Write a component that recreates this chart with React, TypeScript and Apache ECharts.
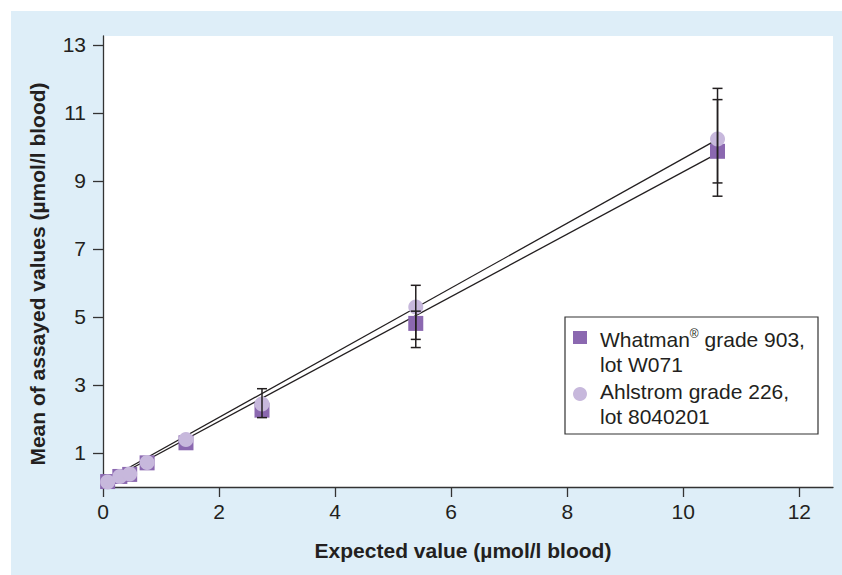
import React, { useEffect, useRef } from "react";
import * as echarts from "echarts";

// Expected values (µmol/l blood)
const expected = [0.08, 0.29, 0.46, 0.76, 1.43, 2.74, 5.39, 10.59];
// Mean of assayed values
const whatmanMean = [0.16, 0.31, 0.37, 0.71, 1.3, 2.26, 4.81, 9.87];
const ahlstromMean = [0.15, 0.31, 0.38, 0.72, 1.4, 2.44, 5.29, 10.23];
// Error bars: [expected, low, high]
const whatmanErrorBars = [
  [5.39, 4.34, 5.17],
  [10.59, 8.94, 11.39],
];
const ahlstromErrorBars = [
  [2.74, 2.04, 2.89],
  [5.39, 4.1, 5.93],
  [10.59, 8.55, 11.72],
];
// Regression lines: [x, y] endpoints
const whatmanFit = [
  [0.08, 0.17],
  [10.59, 9.81],
];
const ahlstromFit = [
  [0.08, 0.22],
  [10.59, 10.22],
];
const xTicks = [0, 2, 4, 6, 8, 10, 12];
const yTicks = [1, 3, 5, 7, 9, 11, 13];

const FONT = "'Liberation Sans', Arial, Helvetica, sans-serif";
const SQUARE = "#8b68b0";
const CIRCLE = "#c7b8dc";
const INK = "#231f20";

export default function App() {
  const ref = useRef<HTMLDivElement>(null);
  useEffect(() => {
    if (!ref.current) return;
    const chart = echarts.init(ref.current, null, { renderer: "svg" });

    const errItem = (params: any, api: any) => {
      const x = api.value(0);
      const lo = api.coord([x, api.value(1)]);
      const hi = api.coord([x, api.value(2)]);
      const w = 5;
      const st = { stroke: INK, lineWidth: 1.5 };
      return {
        type: "group",
        children: [
          { type: "line", shape: { x1: lo[0], y1: lo[1], x2: hi[0], y2: hi[1] }, style: st },
          { type: "line", shape: { x1: lo[0] - w, y1: lo[1], x2: lo[0] + w, y2: lo[1] }, style: st },
          { type: "line", shape: { x1: hi[0] - w, y1: hi[1], x2: hi[0] + w, y2: hi[1] }, style: st },
        ],
      };
    };

    const option: any = {
      animation: false,
      backgroundColor: "#ffffff",
      textStyle: { fontFamily: FONT },
      graphic: [
        {
          type: "rect",
          z: -10,
          silent: true,
          shape: { x: 11, y: 11, width: 831, height: 564 },
          style: { fill: "#deeef8" },
        },
        {
          type: "text",
          x: 37,
          y: 274,
          rotation: Math.PI / 2,
          style: {
            text: "Mean of assayed values (µmol/l blood)",
            font: `bold 21px ${FONT}`,
            fill: INK,
            align: "center",
            verticalAlign: "middle",
          },
        },
        {
          type: "group",
          z: 100,
          children: [
            {
              type: "rect",
              shape: { x: 565, y: 317, width: 253, height: 117 },
              style: { fill: "#ffffff", stroke: "#333", lineWidth: 1.2 },
            },
            {
              type: "rect",
              shape: { x: 573, y: 331, width: 14, height: 13 },
              style: { fill: SQUARE },
            },
            {
              type: "circle",
              shape: { cx: 580, cy: 394, r: 7 },
              style: { fill: CIRCLE },
            },
            {
              type: "text",
              x: 600,
              y: 339,
              style: {
                text: "{a|Whatman}{s|®}{a| grade 903,}",
                verticalAlign: "middle",
                fill: INK,
                rich: {
                  a: { fontFamily: FONT, fontSize: 21, fill: INK, lineHeight: 23 },
                  s: { fontFamily: FONT, fontSize: 12, fill: INK, lineHeight: 23, verticalAlign: "top" },
                },
              },
            },
            {
              type: "text",
              x: 600,
              y: 364,
              style: { text: "lot W071", font: `21px ${FONT}`, fill: INK, verticalAlign: "middle" },
            },
            {
              type: "text",
              x: 600,
              y: 391,
              style: { text: "Ahlstrom grade 226,", font: `21px ${FONT}`, fill: INK, verticalAlign: "middle" },
            },
            {
              type: "text",
              x: 600,
              y: 416,
              style: { text: "lot 8040201", font: `21px ${FONT}`, fill: INK, verticalAlign: "middle" },
            },
          ],
        },
      ],
      grid: {
        left: 103,
        right: 9,
        top: 36,
        bottom: 88,
        show: true,
        backgroundColor: "#ffffff",
        borderWidth: 0,
      },
      xAxis: {
        type: "value",
        min: 0,
        max: 12.58,
        splitLine: { show: false },
        axisLine: { show: true, onZero: false, lineStyle: { color: "#333", width: 1.3 } },
        axisTick: { show: true, length: 10, customValues: xTicks, lineStyle: { color: "#333", width: 1.3 } },
        axisLabel: { customValues: xTicks, fontSize: 21, color: INK, margin: 14, fontFamily: FONT },
        name: "Expected value (µmol/l blood)",
        nameLocation: "middle",
        nameGap: 53,
        nameTextStyle: { fontSize: 21, fontWeight: "bold", color: INK, fontFamily: FONT, padding: [0, 10, 0, 0] },
      },
      yAxis: {
        type: "value",
        min: 0,
        max: 13.26,
        splitLine: { show: false },
        axisLine: { show: true, onZero: false, lineStyle: { color: "#333", width: 1.3 } },
        axisTick: { show: true, length: 10, customValues: yTicks, lineStyle: { color: "#333", width: 1.3 } },
        axisLabel: { customValues: yTicks, fontSize: 21, color: INK, margin: 17, fontFamily: FONT },
      },
      series: [
        {
          type: "line",
          name: "Whatman fit",
          data: whatmanFit,
          symbol: "none",
          z: 2,
          lineStyle: { color: INK, width: 1.3 },
        },
        {
          type: "line",
          name: "Ahlstrom fit",
          data: ahlstromFit,
          symbol: "none",
          z: 2,
          lineStyle: { color: INK, width: 1.3 },
        },
        {
          type: "scatter",
          name: "Whatman® grade 903, lot W071",
          data: expected.map((x, i) => [x, whatmanMean[i]]),
          symbol: "rect",
          symbolSize: [15, 15],
          z: 3,
          itemStyle: { color: SQUARE, opacity: 1 },
        },
        {
          type: "scatter",
          name: "Ahlstrom grade 226, lot 8040201",
          data: expected.map((x, i) => [x, ahlstromMean[i]]),
          symbol: "circle",
          symbolSize: 15,
          z: 4,
          itemStyle: { color: CIRCLE, opacity: 1 },
        },
        {
          type: "custom",
          name: "Whatman error",
          data: whatmanErrorBars,
          encode: { x: 0, y: [1, 2] },
          renderItem: errItem,
          z: 5,
        },
        {
          type: "custom",
          name: "Ahlstrom error",
          data: ahlstromErrorBars,
          encode: { x: 0, y: [1, 2] },
          renderItem: errItem,
          z: 5,
        },
      ],
    };
    chart.setOption(option);
    return () => chart.dispose();
  }, []);
  return (
    <div
      ref={ref}
      style={{ position: "fixed", left: 0, top: 0, width: 842, height: 575 }}
    />
  );
}
